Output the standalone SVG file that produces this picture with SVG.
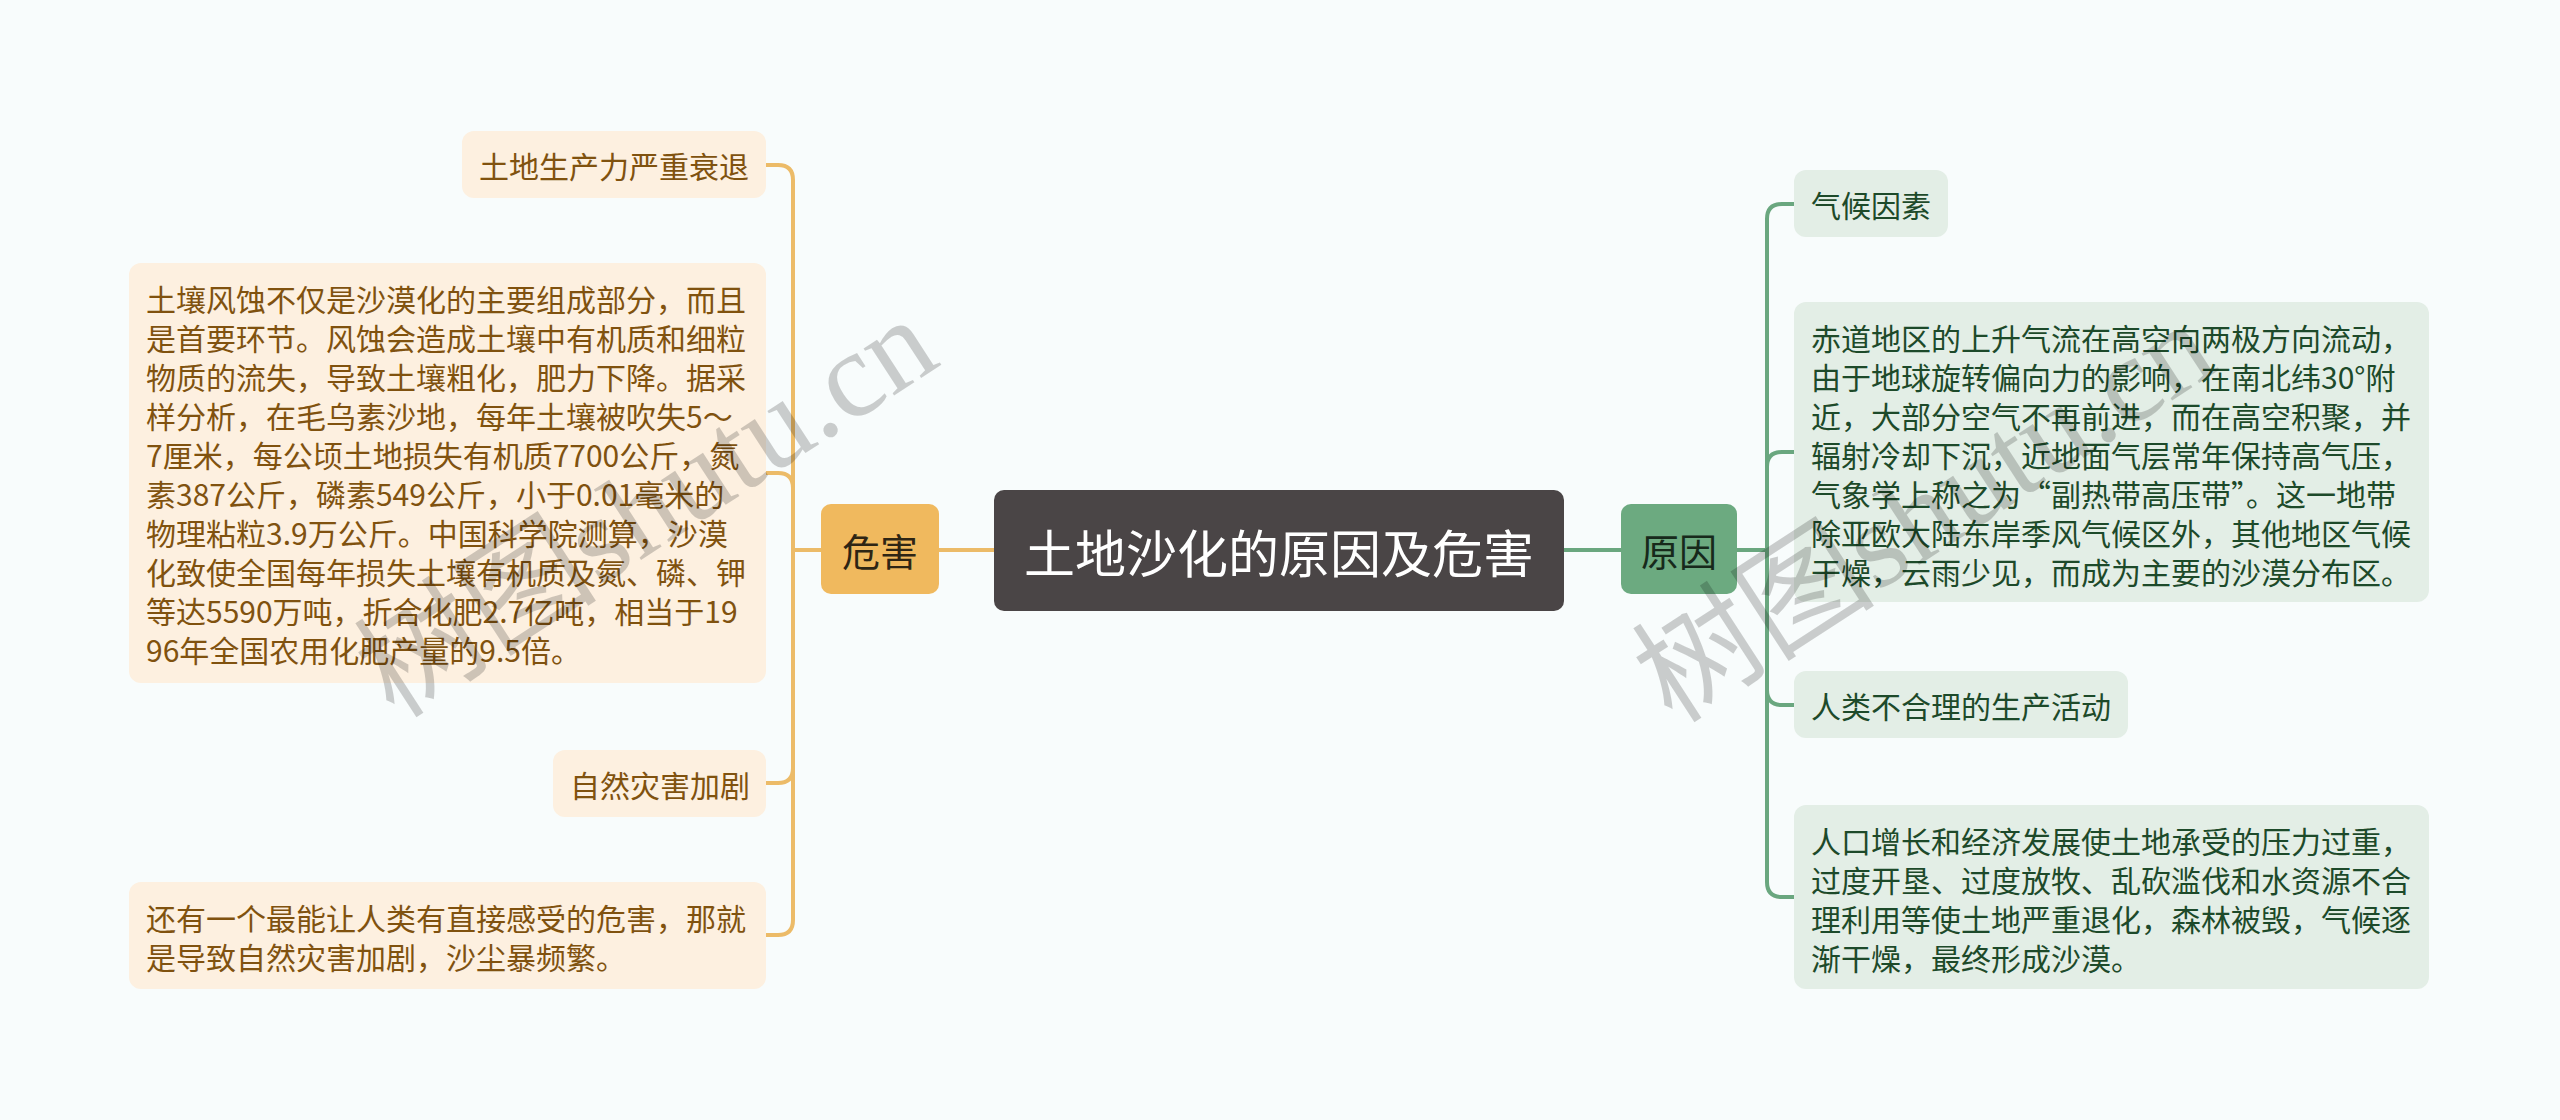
<svg xmlns="http://www.w3.org/2000/svg" width="2560" height="1120" viewBox="0 0 2560 1120">
<style>
.t{font-family:"Noto Sans CJK SC","Noto Sans",sans-serif;font-size:30px;dominant-baseline:central}
.lt{fill:#80520f}
.rt{fill:#1d4a2a}
.lb{fill:#fdf0e0}
.rb{fill:#e3eee6}
.lc{fill:none;stroke:#ecbb68;stroke-width:4}
.rc{fill:none;stroke:#6aa77f;stroke-width:4}
.wm{font-family:"Liberation Serif","Noto Sans CJK SC",serif;font-size:122px;fill:#000;fill-opacity:0.19}
</style>
<rect width="2560" height="1120" fill="#f8fcfc"/>
<g id="connectors">
<path class="lc" d="M994 550H939"/>
<path class="lc" d="M821 550H793"/>
<path class="lc" d="M793 550V180Q793 165 778 165H766"/>
<path class="lc" d="M793 550V488Q793 473 778 473H766"/>
<path class="lc" d="M793 550V768Q793 783 778 783H766"/>
<path class="lc" d="M793 550V920Q793 935 778 935H766"/>
<path class="rc" d="M1564 550H1621"/>
<path class="rc" d="M1737 550H1767"/>
<path class="rc" d="M1767 550V219Q1767 204 1782 204H1794"/>
<path class="rc" d="M1767 550V467Q1767 452 1782 452H1794"/>
<path class="rc" d="M1767 550V690Q1767 705 1782 705H1794"/>
<path class="rc" d="M1767 550V882Q1767 897 1782 897H1794"/>
</g>
<g id="root">
<rect x="994" y="490" width="570" height="121" rx="10" fill="#4a4546"/>
<text class="t" x="1279" y="551" text-anchor="middle" style="font-size:51px" fill="#ffffff">土地沙化的原因及危害</text>
</g>
<g id="harm">
<rect x="821" y="504" width="118" height="90" rx="10" fill="#f0b95e"/>
<text class="t" x="880" y="549" text-anchor="middle" style="font-size:38px" fill="#2e2514">危害</text>
</g>
<g id="cause">
<rect x="1621" y="504" width="116" height="90" rx="10" fill="#6caa80"/>
<text class="t" x="1679" y="549" text-anchor="middle" style="font-size:38px" fill="#17291b">原因</text>
</g>
<g id="h1">
<rect class="lb" x="462" y="131" width="304" height="67" rx="12"/>
<text class="t lt" x="479" y="165">土地生产力严重衰退</text>
</g>
<g id="h2">
<rect class="lb" x="129" y="263" width="637" height="420" rx="12"/>
<text class="t lt" x="146" y="298">
<tspan x="146" y="298">土壤风蚀不仅是沙漠化的主要组成部分，而且</tspan>
<tspan x="146" y="337">是首要环节。风蚀会造成土壤中有机质和细粒</tspan>
<tspan x="146" y="376">物质的流失，导致土壤粗化，肥力下降。据采</tspan>
<tspan x="146" y="415">样分析，在毛乌素沙地，每年土壤被吹失5～</tspan>
<tspan x="146" y="454">7厘米，每公顷土地损失有机质7700公斤，氮</tspan>
<tspan x="146" y="493">素387公斤，磷素549公斤，小于0.01毫米的</tspan>
<tspan x="146" y="532">物理粘粒3.9万公斤。中国科学院测算，沙漠</tspan>
<tspan x="146" y="571">化致使全国每年损失土壤有机质及氮、磷、钾</tspan>
<tspan x="146" y="610">等达5590万吨，折合化肥2.7亿吨，相当于19</tspan>
<tspan x="146" y="649">96年全国农用化肥产量的9.5倍。</tspan>
</text>
</g>
<g id="h3">
<rect class="lb" x="553" y="750" width="213" height="67" rx="12"/>
<text class="t lt" x="570" y="784">自然灾害加剧</text>
</g>
<g id="h4">
<rect class="lb" x="129" y="882" width="637" height="107" rx="12"/>
<text class="t lt">
<tspan x="146" y="917">还有一个最能让人类有直接感受的危害，那就</tspan>
<tspan x="146" y="956">是导致自然灾害加剧，沙尘暴频繁。</tspan>
</text>
</g>
<g id="c1">
<rect class="rb" x="1794" y="170" width="154" height="67" rx="12"/>
<text class="t rt" x="1811" y="204">气候因素</text>
</g>
<g id="c2">
<rect class="rb" x="1794" y="302" width="635" height="300" rx="12"/>
<text class="t rt">
<tspan x="1811" y="337">赤道地区的上升气流在高空向两极方向流动，</tspan>
<tspan x="1811" y="376">由于地球旋转偏向力的影响，在南北纬30°附</tspan>
<tspan x="1811" y="415">近，大部分空气不再前进，而在高空积聚，并</tspan>
<tspan x="1811" y="454">辐射冷却下沉，近地面气层常年保持高气压，</tspan>
<tspan x="1811" y="493">气象学上称之为“副热带高压带”。这一地带</tspan>
<tspan x="1811" y="532">除亚欧大陆东岸季风气候区外，其他地区气候</tspan>
<tspan x="1811" y="571">干燥，云雨少见，而成为主要的沙漠分布区。</tspan>
</text>
</g>
<g id="c3">
<rect class="rb" x="1794" y="671" width="334" height="67" rx="12"/>
<text class="t rt" x="1811" y="705">人类不合理的生产活动</text>
</g>
<g id="c4">
<rect class="rb" x="1794" y="805" width="635" height="184" rx="12"/>
<text class="t rt">
<tspan x="1811" y="840">人口增长和经济发展使土地承受的压力过重，</tspan>
<tspan x="1811" y="879">过度开垦、过度放牧、乱砍滥伐和水资源不合</tspan>
<tspan x="1811" y="918">理利用等使土地严重退化，森林被毁，气候逐</tspan>
<tspan x="1811" y="957">渐干燥，最终形成沙漠。</tspan>
</text>
</g>
<text class="wm" x="648" y="548" text-anchor="middle" transform="rotate(-33 648 510)">树图shutu.cn</text>
<text class="wm" x="1926" y="553" text-anchor="middle" transform="rotate(-33 1926 515)">树图shutu.cn</text>
</svg>
